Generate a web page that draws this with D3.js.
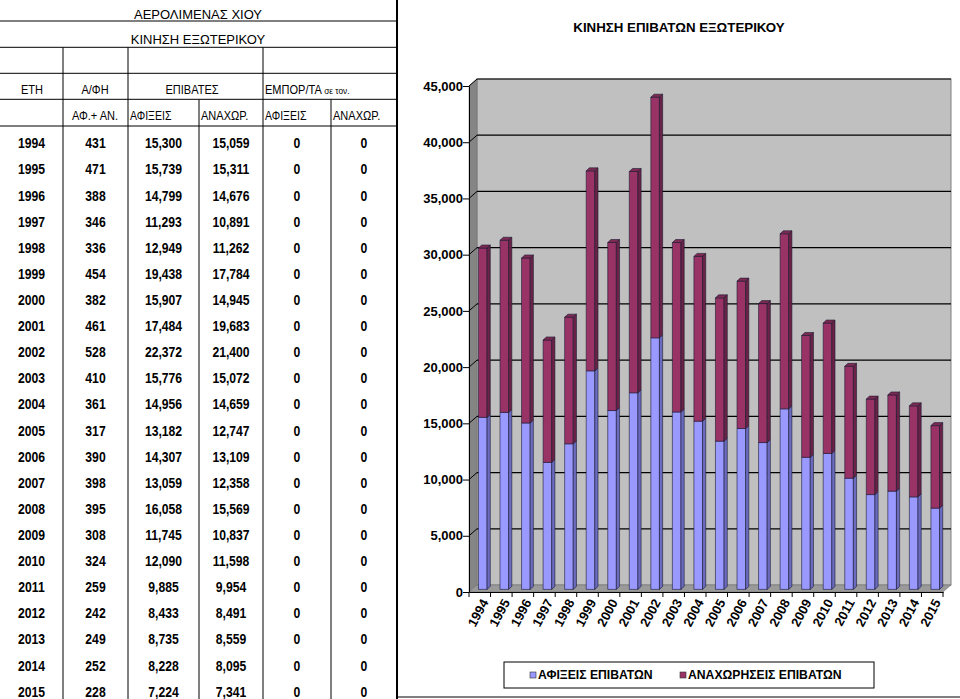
<!DOCTYPE html>
<html>
<head>
<meta charset="utf-8">
<script src="https://cdn.jsdelivr.net/npm/d3@7"></script>
<style>
  body { margin: 0; background: #fff; }
  svg { display: block; font-family: "Liberation Sans", Arial, sans-serif; }
</style>
</head>
<body>
<svg id="chart" width="960" height="699"></svg>
<script>
const years = [1994, 1995, 1996, 1997, 1998, 1999, 2000, 2001, 2002, 2003, 2004,
               2005, 2006, 2007, 2008, 2009, 2010, 2011, 2012, 2013, 2014, 2015];
const flights = [431, 471, 388, 346, 336, 454, 382, 461, 528, 410, 361,
                 317, 390, 398, 395, 308, 324, 259, 242, 249, 252, 228];
const arrivals = [15300, 15739, 14799, 11293, 12949, 19438, 15907, 17484, 22372, 15776, 14956,
                  13182, 14307, 13059, 16058, 11745, 12090, 9885, 8433, 8735, 8228, 7224];
const departures = [15059, 15311, 14676, 10891, 11262, 17784, 14945, 19683, 21400, 15072, 14659,
                    12747, 13109, 12358, 15569, 10837, 11598, 9954, 8491, 8559, 8095, 7341];
const cargoIn = [0, 0, 0, 0, 0, 0, 0, 0, 0, 0, 0, 0, 0, 0, 0, 0, 0, 0, 0, 0, 0, 0];
const cargoOut = [0, 0, 0, 0, 0, 0, 0, 0, 0, 0, 0, 0, 0, 0, 0, 0, 0, 0, 0, 0, 0, 0];
const yTicks = [0, 5000, 10000, 15000, 20000, 25000, 30000, 35000, 40000, 45000];
const seriesNames = ["ΑΦΙΞΕΙΣ ΕΠΙΒΑΤΩΝ", "ΑΝΑΧΩΡΗΣΕΙΣ ΕΠΙΒΑΤΩΝ"];

const svg = d3.select("#chart");
const fmt = d3.format(",");

// ---------------- table ----------------
const colEdges = [0, 63, 128, 199, 263, 331, 397];
const rowY = d3.scaleBand().domain(years).range([130.2, 130.2 + years.length * 26.11]);
const table = svg.append("g");

// horizontal rules
[21, 47.3, 73.3, 99.3, 126].forEach(y => {
    table.append("line").attr("x1", 0).attr("x2", 397).attr("y1", y).attr("y2", y)
        .attr("stroke", "#000").attr("stroke-width", 1);
});
// vertical rules
[[63, 47.3], [128, 47.3], [263, 47.3], [199, 99.3], [331, 99.3]].forEach(([x, y0]) => {
    table.append("line").attr("x1", x).attr("x2", x).attr("y1", y0).attr("y2", 699)
        .attr("stroke", "#000").attr("stroke-width", 1);
});
table.append("line").attr("x1", 397).attr("x2", 397).attr("y1", 0).attr("y2", 699)
    .attr("stroke", "#000").attr("stroke-width", 2);

function cell(x, y, str, opt = {}) {
    const t = table.append("text")
        .attr("transform", `translate(${x},${y}) scale(${opt.sx || 1},1)`)
        .attr("dy", "0.35em")
        .attr("text-anchor", opt.anchor || "middle")
        .attr("font-size", opt.size || 11)
        .attr("font-weight", opt.bold ? "bold" : "normal")
        .attr("fill", "#000")
        .text(str);
    return t;
}

cell(198, 14, "ΑΕΡΟΛΙΜΕΝΑΣ ΧΙΟΥ", {size: 13});
cell(198, 39, "ΚΙΝΗΣΗ ΕΞΩΤΕΡΙΚΟΥ", {size: 13});

cell(32, 90, "ΕΤΗ", {size: 12, sx: 0.92});
cell(95, 90, "Α/ΦΗ", {size: 12, sx: 0.92});
cell(192, 90, "ΕΠΙΒΑΤΕΣ", {size: 12, sx: 0.92});
const emp = cell(265, 90, "ΕΜΠΟΡ/ΤΑ ", {size: 12, anchor: "start", sx: 0.92});
emp.append("tspan").attr("font-size", 9).text("σε τον.");

cell(95, 116, "ΑΦ.+ ΑΝ.", {size: 12, sx: 0.92});
cell(130, 116, "ΑΦΙΞΕΙΣ", {size: 12, anchor: "start", sx: 0.88});
cell(201, 116, "ΑΝΑΧΩΡ.", {size: 12, anchor: "start", sx: 0.92});
cell(265, 116, "ΑΦΙΞΕΙΣ", {size: 12, anchor: "start", sx: 0.88});
cell(333, 116, "ΑΝΑΧΩΡ.", {size: 12, anchor: "start", sx: 0.92});

const columns = [years, flights, arrivals, departures, cargoIn, cargoOut];
years.forEach((yr, i) => {
    const cy = rowY(yr) + rowY.bandwidth() / 2;
    columns.forEach((col, c) => {
        const cx = (colEdges[c] + colEdges[c + 1]) / 2;
        const v = col[i];
        cell(cx, cy, c === 0 ? String(v) : fmt(v), {size: 14.5, bold: true, sx: 0.84});
    });
});

// ---------------- 3D stacked column chart ----------------
const front = {left: 469, right: 943, bottom: 592, top: 86};
const depth = {dx: 8, dy: -7};
const barOff = {dx: 3, dy: -2.6};
const barDepth = {dx: 3.2, dy: -3};

const x = d3.scaleBand().domain(years).range([front.left, front.right]);
const xBar = d3.scaleBand().domain(years).range([front.left, front.right])
    .paddingInner(0.6).paddingOuter(0.3);
const y = d3.scaleLinear().domain([0, 45000]).range([front.bottom, front.top]);

const chart = svg.append("g");

// chart title
chart.append("text")
    .attr("x", 679).attr("y", 27).attr("dy", "0.35em")
    .attr("text-anchor", "middle")
    .attr("font-size", 13.3).attr("font-weight", "bold")
    .text("ΚΙΝΗΣΗ ΕΠΙΒΑΤΩΝ ΕΞΩΤΕΡΙΚΟΥ");

// walls
const bl = front.left + depth.dx, br = front.right + depth.dx;
const bt = front.top + depth.dy, bb = front.bottom + depth.dy;
chart.append("rect")
    .attr("x", bl).attr("y", bt).attr("width", br - bl).attr("height", bb - bt)
    .attr("fill", "#c0c0c0").attr("stroke", "#808080");
chart.append("polygon")
    .attr("points", [[front.left, front.bottom], [front.left, front.top], [bl, bt], [bl, bb]].join(" "))
    .attr("fill", "#858585").attr("stroke", "#6a6a6a").attr("stroke-width", 0.5);
chart.append("polygon")
    .attr("points", [[front.left, front.bottom], [front.right, front.bottom], [br, bb], [bl, bb]].join(" "))
    .attr("fill", "#9a9a9a").attr("stroke", "#6a6a6a").attr("stroke-width", 0.5);

// gridlines on back wall and side wall
yTicks.filter(t => t > 0).forEach(t => {
    const yf = y(t), yb = y(t) + depth.dy;
    chart.append("line").attr("x1", bl).attr("x2", br).attr("y1", yb).attr("y2", yb)
        .attr("stroke", "#000").attr("stroke-width", 1.2);
    chart.append("line").attr("x1", front.left).attr("x2", bl).attr("y1", yf).attr("y2", yb)
        .attr("stroke", "#000").attr("stroke-width", 1);
});

// bars
const stack = years.map((yr, i) => [
    {yr, y0: 0, y1: arrivals[i], s: 0},
    {yr, y0: arrivals[i], y1: arrivals[i] + departures[i], s: 1}
]);
const faceColors = [
    {front: "#9999ff", side: "#6b6bc0", top: "#b8b8ff"},
    {front: "#993366", side: "#6a2346", top: "#7d2a53"}
];
const barG = chart.append("g").attr("stroke", "#1a1a33").attr("stroke-width", 0.6)
    .attr("stroke-linejoin", "round");

stack.forEach(segs => {
    segs.forEach((d, k) => {
        const x0 = xBar(d.yr) + barOff.dx, x1 = x0 + xBar.bandwidth();
        const yTop = y(d.y1) + barOff.dy, yBot = y(d.y0) + barOff.dy;
        const c = faceColors[d.s];
        barG.append("rect")
            .attr("x", x0).attr("y", yTop).attr("width", x1 - x0).attr("height", yBot - yTop)
            .attr("fill", c.front);
        barG.append("polygon")
            .attr("points", [[x1, yBot], [x1, yTop], [x1 + barDepth.dx, yTop + barDepth.dy],
                             [x1 + barDepth.dx, yBot + barDepth.dy]].join(" "))
            .attr("fill", c.side);
        if (k === segs.length - 1) {
            barG.append("polygon")
                .attr("points", [[x0, yTop], [x1, yTop], [x1 + barDepth.dx, yTop + barDepth.dy],
                                 [x0 + barDepth.dx, yTop + barDepth.dy]].join(" "))
                .attr("fill", c.top);
        }
    });
});

// y axis on the front-left edge
const yAxis = chart.append("g")
    .attr("transform", `translate(${front.left},0)`)
    .call(d3.axisLeft(y).tickValues(yTicks).tickFormat(fmt).tickSize(6).tickSizeOuter(0));
yAxis.selectAll("path, line").attr("stroke", "#000");
yAxis.selectAll("text")
    .attr("font-family", "Liberation Sans, Arial, sans-serif")
    .attr("font-size", 13).attr("font-weight", "bold").attr("fill", "#000")
    .attr("x", -6);

// x axis on the front-bottom edge, ticks at category boundaries
const xAxis = chart.append("g")
    .attr("transform", `translate(0,${front.bottom})`)
    .call(d3.axisBottom(x).tickSize(0).tickSizeOuter(0));
xAxis.select(".domain").attr("stroke", "#000");
xAxis.selectAll(".tick text")
    .attr("font-family", "Liberation Sans, Arial, sans-serif")
    .attr("font-size", 13).attr("font-weight", "bold").attr("fill", "#000")
    .attr("text-anchor", "end")
    .attr("x", 0).attr("y", 0).attr("dy", "0.35em")
    .attr("transform", "translate(5,8) rotate(-62)");
const bounds = years.map(yr => x(yr)).concat([x.range()[1]]);
chart.append("g").selectAll("line").data(bounds).join("line")
    .attr("x1", d => d).attr("x2", d => d)
    .attr("y1", front.bottom).attr("y2", front.bottom + 5)
    .attr("stroke", "#000");

// legend
const legend = chart.append("g");
legend.append("rect")
    .attr("x", 504).attr("y", 662).attr("width", 370).attr("height", 26)
    .attr("fill", "#fff").attr("stroke", "#000").attr("stroke-width", 1);
const legendX = [530, 680];
seriesNames.forEach((name, i) => {
    legend.append("rect")
        .attr("x", legendX[i]).attr("y", 672).attr("width", 6).attr("height", 6)
        .attr("fill", faceColors[i].front).attr("stroke", "#333").attr("stroke-width", 0.6);
    legend.append("text")
        .attr("x", legendX[i] + 8).attr("y", 675).attr("dy", "0.35em")
        .attr("font-size", 12.2).attr("font-weight", "bold")
        .text(name);
});

// bottom rule of the chart panel
chart.append("line").attr("x1", 397).attr("x2", 960).attr("y1", 697).attr("y2", 697)
    .attr("stroke", "#000").attr("stroke-width", 1);
</script>
</body>
</html>
